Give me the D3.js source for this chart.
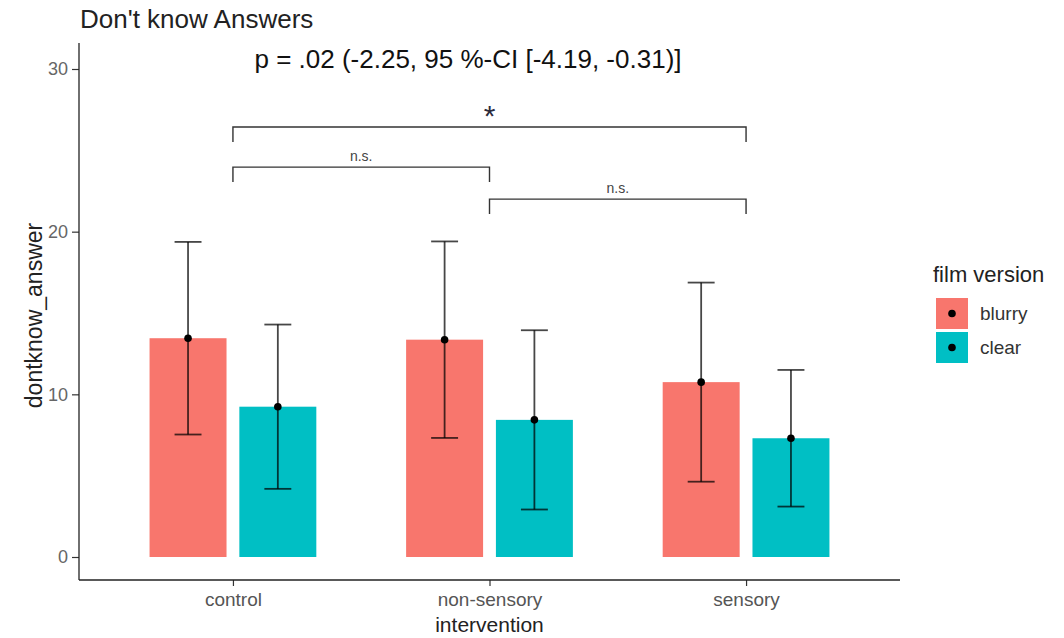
<!DOCTYPE html>
<html>
<head>
<meta charset="utf-8">
<script src="https://cdn.jsdelivr.net/npm/d3@7"></script>
<style>
  html, body { margin: 0; padding: 0; background: #fff; }
  svg { display: block; font-family: "Liberation Sans", Arial, sans-serif; }
</style>
</head>
<body>
<svg id="chart" width="1064" height="638"></svg>
<script>
// Categories and groups
const interventions = ["control", "non-sensory", "sensory"];
const filmVersions = ["blurry", "clear"];

// Mean number of "don't know" answers and standard deviation per group
const blurryMean = [13.45, 13.36, 10.75];
const blurrySd   = [5.92, 6.04, 6.12];
const clearMean  = [9.24, 8.43, 7.30];
const clearSd    = [5.05, 5.51, 4.20];

const yTicks = [0, 10, 20, 30];

// Pairwise comparisons drawn as brackets above the bars
const compFrom   = ["control", "control", "non-sensory"];
const compTo     = ["sensory", "non-sensory", "sensory"];
const compLevel  = [26.43, 23.97, 22.0];
const compLabel  = ["*", "n.s.", "n.s."];

const titleText = "Don't know Answers";
const subtitleText = "p = .02 (-2.25, 95 %-CI [-4.19, -0.31)]";

const colors = { blurry: "#F8766D", clear: "#00BFC4" };

// Build the rows used for the marks
const rows = [];
interventions.forEach((iv, i) => {
  rows.push({ iv, film: "blurry", mean: blurryMean[i], sd: blurrySd[i] });
  rows.push({ iv, film: "clear", mean: clearMean[i], sd: clearSd[i] });
});

const svg = d3.select("#chart");

// Panel geometry
const panel = { left: 79, right: 900, top: 43, bottom: 580 };

// Discrete x on a continuous scale (positions 1..3, padded 0.6 on each side)
const xPos = d3.scaleLinear().domain([0.4, 3.6]).range([panel.left, panel.right]);
const catIndex = d3.scaleOrdinal().domain(interventions).range([1, 2, 3]);
const dodge = d3.scaleOrdinal().domain(filmVersions).range([-0.175, 0.175]);
const barWidth = 0.30;
const capWidth = 0.105;

const y = d3.scaleLinear().domain([0, 30]).range([557, 69]);

// Bars
svg.append("g").selectAll("rect").data(rows).join("rect")
  .attr("x", d => xPos(catIndex(d.iv) + dodge(d.film) - barWidth / 2))
  .attr("width", d => xPos(catIndex(d.iv) + dodge(d.film) + barWidth / 2) - xPos(catIndex(d.iv) + dodge(d.film) - barWidth / 2))
  .attr("y", d => y(d.mean))
  .attr("height", d => y(0) - y(d.mean))
  .attr("fill", d => colors[d.film]);

// Error bars (mean ± sd)
const eb = svg.append("g")
  .attr("stroke", "#000")
  .attr("stroke-opacity", 0.72)
  .attr("stroke-width", 1.8)
  .attr("fill", "none");
rows.forEach(d => {
  const cx = catIndex(d.iv) + dodge(d.film);
  const lo = d.mean - d.sd, hi = d.mean + d.sd;
  eb.append("line").attr("x1", xPos(cx)).attr("x2", xPos(cx)).attr("y1", y(lo)).attr("y2", y(hi));
  eb.append("line").attr("x1", xPos(cx - capWidth / 2)).attr("x2", xPos(cx + capWidth / 2))
    .attr("y1", y(hi)).attr("y2", y(hi));
  eb.append("line").attr("x1", xPos(cx - capWidth / 2)).attr("x2", xPos(cx + capWidth / 2))
    .attr("y1", y(lo)).attr("y2", y(lo));
});

// Mean points
svg.append("g").selectAll("circle").data(rows).join("circle")
  .attr("cx", d => xPos(catIndex(d.iv) + dodge(d.film)))
  .attr("cy", d => y(d.mean))
  .attr("r", 3.8)
  .attr("fill", "#000");

// Significance brackets
const tickDrop = 0.92;
const br = svg.append("g");
compFrom.forEach((from, i) => {
  const x1 = xPos(catIndex(from)), x2 = xPos(catIndex(compTo[i]));
  const yl = y(compLevel[i]), yd = y(compLevel[i] - tickDrop);
  br.append("path")
    .attr("d", `M${x1},${yd}L${x1},${yl}L${x2},${yl}L${x2},${yd}`)
    .attr("fill", "none").attr("stroke", "#333").attr("stroke-width", 1.4);
  const star = compLabel[i] === "*";
  br.append("text")
    .attr("x", (x1 + x2) / 2)
    .attr("y", star ? yl - 1 : yl - 6)
    .attr("text-anchor", "middle")
    .attr("font-size", star ? 30 : 14)
    .attr("fill", star ? "#2b2b3b" : "#444")
    .text(compLabel[i]);
});

// Axes
const yAxis = d3.axisLeft(y).tickValues(yTicks).tickSize(7).tickPadding(4);
const gy = svg.append("g").attr("transform", `translate(${panel.left},0)`).call(yAxis);
gy.select(".domain").remove();
gy.selectAll(".tick line").attr("stroke", "#333").attr("stroke-width", 1.2);
gy.selectAll(".tick text").attr("font-size", 18).attr("fill", "#666")
  .attr("font-family", "Liberation Sans, Arial, sans-serif");

const xBand = d3.scalePoint().domain(interventions).range([xPos(1), xPos(3)]);
const xAxis = d3.axisBottom(xBand).tickSize(6).tickPadding(7);
const gx = svg.append("g").attr("transform", `translate(0,${panel.bottom})`).call(xAxis);
gx.select(".domain").remove();
gx.selectAll(".tick line").attr("stroke", "#333").attr("stroke-width", 1.2);
gx.selectAll(".tick text").attr("font-size", 19).attr("fill", "#555")
  .attr("font-family", "Liberation Sans, Arial, sans-serif");

// Axis lines
svg.append("line").attr("x1", panel.left).attr("x2", panel.left)
  .attr("y1", panel.top).attr("y2", panel.bottom)
  .attr("stroke", "#222").attr("stroke-width", 1.3);
svg.append("line").attr("x1", panel.left).attr("x2", panel.right)
  .attr("y1", panel.bottom).attr("y2", panel.bottom)
  .attr("stroke", "#222").attr("stroke-width", 1.3);

// Axis titles
svg.append("text")
  .attr("x", (panel.left + panel.right) / 2).attr("y", 632)
  .attr("text-anchor", "middle").attr("font-size", 21).attr("fill", "#222")
  .text("intervention");
svg.append("text")
  .attr("transform", `translate(42,${(panel.top + panel.bottom) / 2 + 4}) rotate(-90)`)
  .attr("text-anchor", "middle").attr("font-size", 23).attr("fill", "#222")
  .text("dontknow_answer");

// Title and subtitle
svg.append("text").attr("x", 80).attr("y", 28)
  .attr("font-size", 26).attr("fill", "#222").text(titleText);
svg.append("text").attr("x", 468).attr("y", 68)
  .attr("text-anchor", "middle").attr("font-size", 26).attr("fill", "#111")
  .text(subtitleText);

// Legend
const lg = svg.append("g");
lg.append("text").attr("x", 933).attr("y", 282)
  .attr("font-size", 22).attr("fill", "#222").text("film version");
filmVersions.forEach((f, i) => {
  const top = 298 + i * 34;
  lg.append("rect").attr("x", 936).attr("y", top).attr("width", 32).attr("height", 31)
    .attr("fill", colors[f]);
  lg.append("circle").attr("cx", 952).attr("cy", top + 15.5).attr("r", 3.8).attr("fill", "#000");
  lg.append("text").attr("x", 980).attr("y", top + 15.5).attr("dy", "0.35em")
    .attr("font-size", 19).attr("fill", "#333").text(f);
});
</script>
</body>
</html>
